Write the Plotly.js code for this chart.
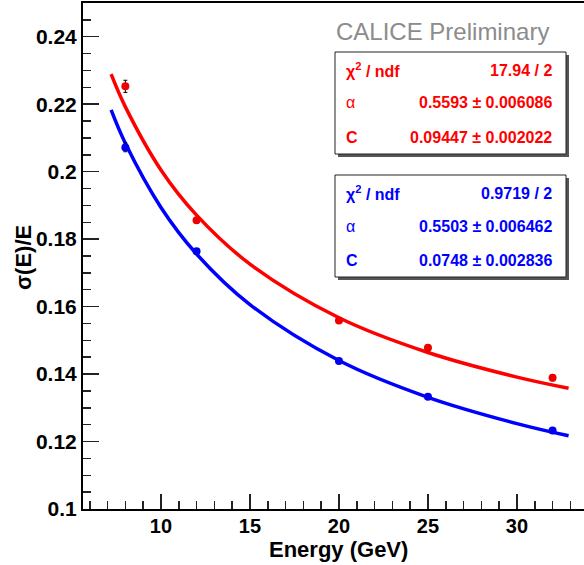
<!DOCTYPE html>
<html><head><meta charset="utf-8">
<script src="https://cdn.plot.ly/plotly-3.0.1.min.js"></script>
<style>html,body{margin:0;padding:0;background:#fff}</style>
</head><body><div id="chart" style="width:584px;height:565px"></div>
<script>
// Data points
const energy = [8, 12, 20, 25, 32];
const redRes = [0.2253, 0.1856, 0.1559, 0.1478, 0.1389];
const redErr = [0.0018, 0.0008, 0.0007, 0.0009, 0.0009];
const blueRes = [0.2072, 0.1764, 0.1439, 0.1333, 0.1233];
const blueErr = [0.0013, 0.0006, 0.0006, 0.0006, 0.0006];
// Fit curves
const fitE = [7.2, 8, 10, 12, 15, 20, 25, 30, 32.9];
const redFit = [0.2289, 0.2192, 0.2005, 0.1871, 0.1726, 0.1567, 0.1464, 0.1391, 0.1358];
const blueFit = [0.2183, 0.2084, 0.1894, 0.1756, 0.1606, 0.1440, 0.1331, 0.1253, 0.1217];
// Stat boxes
const statLabels = ["χ<sup>2</sup> / ndf", "α", "C"];
const redStats = ["17.94 / 2", "0.5593 ± 0.006086", "0.09447 ± 0.002022"];
const blueStats = ["0.9719 / 2", "0.5503 ± 0.006462", "0.0748 ± 0.002836"];

const FONT = "Liberation Sans, Arial, Helvetica, sans-serif";
const L = 83, T = 3, W = 501, H = 506;
const px = x => (x - L) / W;
const py = y => (T + H - y) / H;

const traces = [
  {x: fitE, y: redFit, mode: 'lines', line: {color: '#ff0000', width: 3.5, shape: 'spline'}, hoverinfo: 'skip'},
  {x: fitE, y: blueFit, mode: 'lines', line: {color: '#0000ff', width: 3.5, shape: 'spline'}, hoverinfo: 'skip'},
  {x: energy, y: redRes, mode: 'markers', marker: {color: '#ee0000', size: 8},
   error_y: {type: 'data', array: redErr, color: '#000', thickness: 1, width: 2}},
  {x: energy, y: blueRes, mode: 'markers', marker: {color: '#0000ee', size: 8},
   error_y: {type: 'data', array: blueErr, color: '#000', thickness: 1, width: 2}}
];

const shapes = [];
const annotations = [];
function box(top, bottom, color, labels, vals) {
  shapes.push({type: 'rect', xref: 'paper', yref: 'paper', x0: px(338), x1: px(569), y0: py(bottom + 3), y1: py(top + 3),
    line: {width: 0}, fillcolor: '#555'});
  shapes.push({type: 'rect', xref: 'paper', yref: 'paper', x0: px(335), x1: px(566), y0: py(bottom), y1: py(top),
    line: {width: 1, color: '#222'}, fillcolor: '#fff'});
  const rows = [top + 18, top + 51, top + 85];
  for (let i = 0; i < 3; i++) {
    annotations.push({xref: 'paper', yref: 'paper', x: px(344), y: py(rows[i]), xanchor: 'left', yanchor: 'middle',
      text: labels[i], showarrow: false, font: {family: FONT, size: 16, color: color, weight: i === 1 ? 'normal' : 'bold'}});
    annotations.push({xref: 'paper', yref: 'paper', x: px(554), y: py(rows[i]), xanchor: 'right', yanchor: 'middle',
      text: vals[i], showarrow: false, font: {family: FONT, size: 16, color: color, weight: 'bold'}});
  }
}
box(52, 154, '#ff0000', statLabels, redStats);
box(175, 277, '#0000ff', statLabels, blueStats);

annotations.push({xref: 'paper', yref: 'paper', x: px(442), y: py(31), xanchor: 'center', yanchor: 'middle',
  text: 'CALICE Preliminary', showarrow: false, font: {family: FONT, size: 24, color: '#8c8c8c'}});
annotations.push({xref: 'paper', yref: 'paper', x: px(410), y: py(549), xanchor: 'right', yanchor: 'middle',
  text: 'Energy (GeV)', showarrow: false, font: {family: FONT, size: 22, color: '#000', weight: 'bold'}});
annotations.push({xref: 'paper', yref: 'paper', x: px(23), y: py(258), xanchor: 'center', yanchor: 'middle', textangle: -90,
  text: 'σ(E)/E', showarrow: false, font: {family: FONT, size: 22, color: '#000', weight: 'bold'}});

const layout = {
  width: 584, height: 565,
  margin: {l: L, r: 0, t: T, b: 565 - T - H, pad: 0},
  paper_bgcolor: '#fff', plot_bgcolor: '#fff',
  showlegend: false,
  xaxis: {range: [5.62, 5.62 + W / 17.8], showgrid: false, zeroline: false,
    showline: true, linecolor: '#000', linewidth: 2, mirror: true,
    tickmode: 'linear', tick0: 10, dtick: 5, ticks: 'inside', ticklen: 15, tickwidth: 1.5, tickcolor: '#222',
    minor: {tick0: 10, dtick: 1, ticks: 'inside', ticklen: 8, tickwidth: 1.5, tickcolor: '#222'},
    ticklabelstandoff: -2,
    tickfont: {family: FONT, size: 20, color: '#000', weight: 'bold'}},
  yaxis: {range: [0.1, 0.25], showgrid: false, zeroline: false,
    showline: true, linecolor: '#000', linewidth: 2,
    tickmode: 'linear', tick0: 0.1, dtick: 0.02, ticks: 'inside', ticklen: 16, tickwidth: 1.5, tickcolor: '#222',
    minor: {tick0: 0.1, dtick: 0.005, ticks: 'inside', ticklen: 8, tickwidth: 1.5, tickcolor: '#222'},
    tickfont: {family: FONT, size: 21, color: '#000', weight: 'bold'}},
  shapes: shapes,
  annotations: annotations
};
Plotly.newPlot('chart', traces, layout, {displayModeBar: false, staticPlot: true});
</script></body></html>
